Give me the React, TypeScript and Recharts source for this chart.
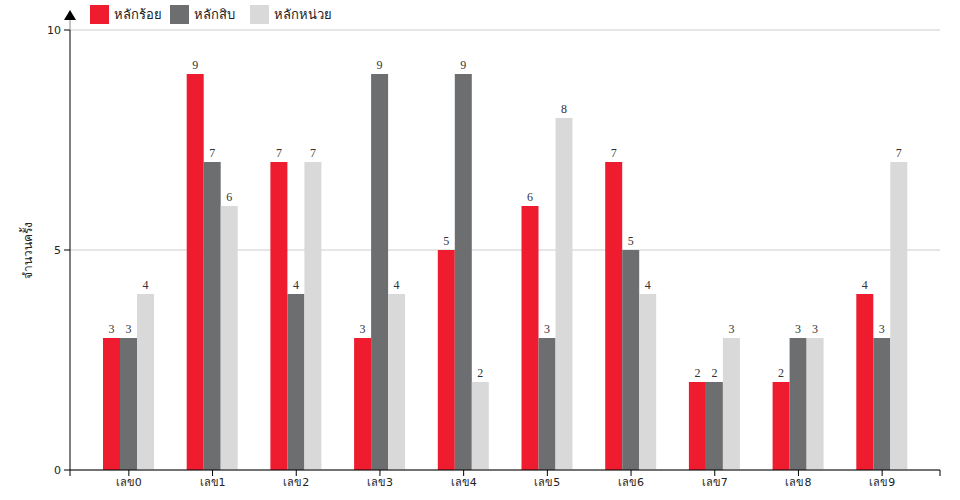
import React from 'react';
import { BarChart, Bar, XAxis, YAxis, CartesianGrid, LabelList, Legend, Label } from 'recharts';

const categories = ['เลข0', 'เลข1', 'เลข2', 'เลข3', 'เลข4', 'เลข5', 'เลข6', 'เลข7', 'เลข8', 'เลข9'];
const hundreds = [3, 9, 7, 3, 5, 6, 7, 2, 2, 4];
const tens = [3, 7, 4, 9, 9, 3, 5, 2, 3, 3];
const units = [4, 6, 7, 4, 2, 8, 4, 3, 3, 7];
const seriesNames = ['หลักร้อย', 'หลักสิบ', 'หลักหน่วย'];
const seriesKeys = ['h', 't', 'u'];
const colors = ['#ee1c2e', '#6d6e70', '#d9d9d9'];
const yTicks = [0, 5, 10];
const yLabel = 'จำนวนครั้ง';

const data = categories.map((c, i) => ({ name: c, h: hundreds[i], t: tens[i], u: units[i] }));

const FONT = "'DejaVu Sans', sans-serif";

const LegendContent = () => (
  <div style={{ height: 30, position: 'relative', fontFamily: FONT, fontSize: 13, color: '#222' }}>
    {seriesNames.map((n, i) => (
      <div key={n} style={{ position: 'absolute', left: [90, 170, 250][i], top: 5, display: 'flex', alignItems: 'center' }}>
        <div style={{ width: 19, height: 19, background: colors[i] }} />
        <span style={{ marginLeft: 5, lineHeight: '19px' }}>{n}</span>
      </div>
    ))}
  </div>
);

const YAxisDecor = (props: any) => {
  const vb = props.viewBox || {};
  const ax = vb.x + vb.width;
  const top = vb.y;
  const cy = vb.y + vb.height / 2;
  return (
    <g>
      <line x1={ax} y1={top} x2={ax} y2={top - 12} stroke="#888" strokeWidth={1} />
      <path d={`M${ax - 6},${top - 10} L${ax + 6},${top - 10} L${ax},${top - 20} Z`} fill="#000" />
      <text x={28} y={cy} transform={`rotate(-90, 28, ${cy})`} textAnchor="middle" dominantBaseline="middle" fontFamily={FONT} fontSize={12} fill="#222">
        {yLabel}
      </text>
    </g>
  );
};

const XAxisDecor = (props: any) => {
  const vb = props.viewBox || {};
  const y = vb.y;
  return (
    <g>
      <line x1={vb.x} y1={y} x2={vb.x} y2={y + 6} stroke="#000" />
      <line x1={vb.x + vb.width} y1={y} x2={vb.x + vb.width} y2={y + 6} stroke="#000" />
    </g>
  );
};

export default function App() {
  return (
    <div style={{ position: 'absolute', left: 0, top: 0, background: '#fff' }}>
      <BarChart width={960} height={500} data={data} margin={{ top: 0, right: 20, bottom: 0, left: 0 }} barGap={0} barSize={17}>
        <Legend verticalAlign="top" align="left" content={<LegendContent />} wrapperStyle={{ height: 30, left: 0, top: 0, width: 960 }} />
        <CartesianGrid vertical={false} stroke="#cccccc" />
        <XAxis dataKey="name" height={30} padding={{ left: 17, right: 16 }} stroke="#000" tickLine={{ stroke: '#000' }}
          tick={{ fontFamily: FONT, fontSize: 11, fill: '#222' }} tickSize={6} tickMargin={2}>
          <Label content={<XAxisDecor />} />
        </XAxis>
        <YAxis width={70} domain={[0, 10]} ticks={yTicks} stroke="#000" tickLine={{ stroke: '#000' }}
          tick={{ fontFamily: FONT, fontSize: 11, fill: '#222' }} tickSize={6} tickMargin={3}>
          <Label content={<YAxisDecor />} />
        </YAxis>
        {seriesKeys.map((k, i) => (
          <Bar key={k} dataKey={k} name={seriesNames[i]} fill={colors[i]} isAnimationActive={false}>
            <LabelList dataKey={k} position="top" offset={5} fontFamily="'Liberation Serif', serif" fontSize={12} fill="#333" />
          </Bar>
        ))}
      </BarChart>
    </div>
  );
}
